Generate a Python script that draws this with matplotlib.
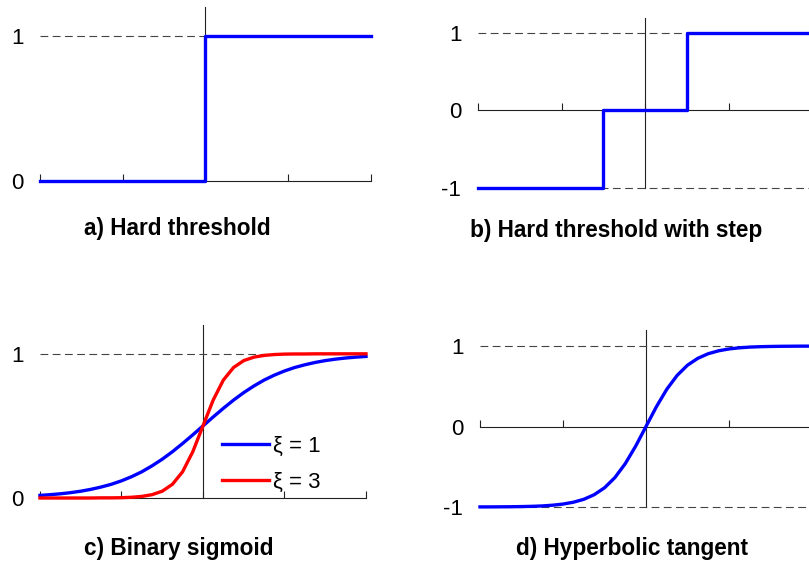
import matplotlib
matplotlib.use("Agg")
import matplotlib.pyplot as plt

plt.rcParams['font.family'] = ['Liberation Sans', 'DejaVu Sans']

# --- data ---
x_step = [-4, 0, 0, 4]
y_hard = [0, 0, 1, 1]

x_step2 = [-4, -1, -1, 1, 1, 4]
y_hard2 = [-1, -1, 0, 0, 1, 1]

x_curve = [-4, -3.75, -3.5, -3.25, -3, -2.75, -2.5, -2.25, -2, -1.75, -1.5, -1.25, -1, -0.75, -0.5, -0.25,
           0, 0.25, 0.5, 0.75, 1, 1.25, 1.5, 1.75, 2, 2.25, 2.5, 2.75, 3, 3.25, 3.5, 3.75, 4]
y_sig1 = [0.018, 0.023, 0.029, 0.037, 0.047, 0.060, 0.076, 0.095, 0.119, 0.148, 0.182, 0.223, 0.269, 0.321,
          0.378, 0.438, 0.5, 0.562, 0.622, 0.679, 0.731, 0.777, 0.818, 0.852, 0.881, 0.905, 0.924, 0.940,
          0.953, 0.963, 0.971, 0.977, 0.982]
y_sig3 = [0.0, 0.0, 0.0, 0.0, 0.0, 0.0, 0.001, 0.001, 0.002, 0.005, 0.011, 0.023, 0.047, 0.095, 0.182, 0.321,
          0.5, 0.679, 0.818, 0.905, 0.953, 0.977, 0.989, 0.995, 0.998, 0.999, 0.999, 1.0, 1.0, 1.0, 1.0,
          1.0, 1.0]
y_tanh = [-0.999, -0.999, -0.998, -0.997, -0.995, -0.992, -0.987, -0.978, -0.964, -0.941, -0.905, -0.848,
          -0.762, -0.635, -0.462, -0.245, 0.0, 0.245, 0.462, 0.635, 0.762, 0.848, 0.905, 0.941, 0.964, 0.978,
          0.987, 0.992, 0.995, 0.997, 0.998, 0.999, 0.999]

titles = ["a) Hard threshold", "b) Hard threshold with step", "c) Binary sigmoid", "d) Hyperbolic tangent"]

fig = plt.figure(figsize=(8.09, 5.65), dpi=100)

# axes rectangles (left, bottom, width, height)
rects = [[0.0494, 0.6796, 0.4092, 0.3080],
         [0.5909, 0.6673, 0.4129, 0.3017],
         [0.0494, 0.1186, 0.4030, 0.3062],
         [0.5933, 0.1027, 0.4104, 0.3133]]
ylims = [(0, 1.2), (-1, 1.2), (0, 1.2), (-1, 1.2)]

axes = [fig.add_axes(r) for r in rects]

blue = "#0000ff"
red = "#ff0000"
lw = 2.4

axes[0].plot(x_step, y_hard, color=blue, lw=lw, clip_on=False, zorder=3)
axes[1].plot(x_step2, y_hard2, color=blue, lw=lw, clip_on=False, zorder=3)
axes[2].plot(x_curve, y_sig1, color=blue, lw=lw, clip_on=False, zorder=3, label="ξ = 1")
axes[2].plot(x_curve, y_sig3, color=red, lw=lw, clip_on=False, zorder=3, label="ξ = 3")
axes[3].plot(x_curve, y_tanh, color=blue, lw=lw, clip_on=False, zorder=3)

for i, ax in enumerate(axes):
    lo, hi = ylims[i]
    ax.set_xlim(-4, 4)
    ax.set_ylim(lo, hi)
    ax.patch.set_visible(False)
    for s in ["top", "right", "left"]:
        ax.spines[s].set_visible(False)
    ax.spines["bottom"].set_position(("data", 0))
    ax.spines["bottom"].set_color("#222222")
    ax.spines["bottom"].set_linewidth(0.8)
    ax.axvline(0, color="#222222", lw=0.8, zorder=1, clip_on=False)
    # dashed reference levels
    levels = [1] if lo == 0 else [-1, 1]
    for lv in levels:
        ax.axhline(lv, color="#444444", lw=0.8, ls=(0, (7, 4)), zorder=1, clip_on=False)
    ax.set_xticks([-4, -2, 0, 2, 4])
    ax.set_xticklabels([])
    ax.tick_params(axis="x", direction="in", length=5, width=0.8, color="#222222")
    ticks = [0, 1] if lo == 0 else [-1, 0, 1]
    ax.set_yticks(ticks)
    ax.set_yticklabels([str(t) for t in ticks], fontsize=16)
    ax.tick_params(axis="y", length=0, pad=12)

fs_title = 16.3
fig.text(0.219, 1 - 228 / 565, titles[0], ha="center", va="center", fontsize=fs_title, fontweight="bold")
fig.text(0.761, 1 - 230 / 565, titles[1], ha="center", va="center", fontsize=fs_title, fontweight="bold")
fig.text(0.221, 1 - 548 / 565, titles[2], ha="center", va="center", fontsize=fs_title, fontweight="bold")
fig.text(0.781, 1 - 548 / 565, titles[3], ha="center", va="center", fontsize=fs_title, fontweight="bold")

axes[2].legend(loc="center left", bbox_to_anchor=(0.525, 0.195), frameon=False, fontsize=16,
               handlelength=2.1, handletextpad=0.2, labelspacing=0.65, borderpad=0)

fig.savefig("out.png", dpi=100)
